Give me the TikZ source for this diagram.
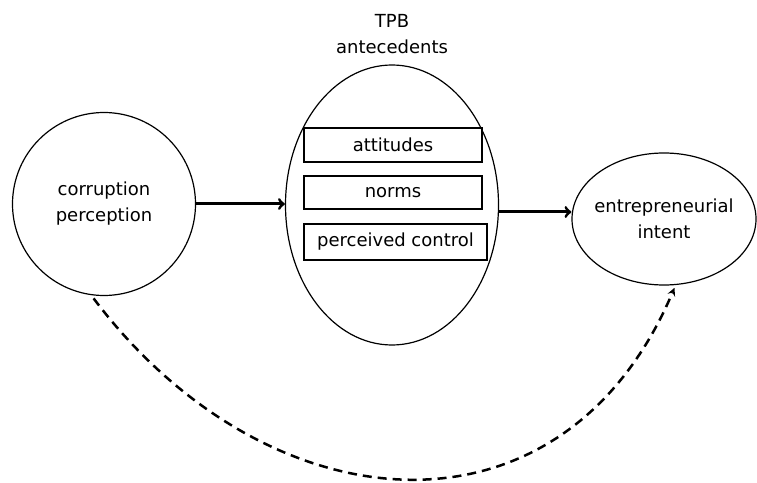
\documentclass[tikz,border=0pt]{standalone}
\usepackage{fontspec}
\setmainfont{DejaVu Sans}
\usetikzlibrary{shapes.geometric}

\begin{document}
\begin{tikzpicture}[x=1pt,y=1pt,font=\fontsize{18}{26}\selectfont]
        \useasboundingbox (0,0) rectangle (757,482);
        \node[draw,circle,line width=1.2pt,minimum size=183pt,align=center] (corruption) at (104,278) {corruption\\perception};
        \node[draw,ellipse,line width=1.2pt,minimum width=213pt,minimum height=280pt] (tpb) at (392,277) {};
        \node[align=center] (title) at (392,448) {TPB\\antecedents};
        \node[draw,line width=1.2pt,minimum width=178pt,minimum height=34pt] (attitudes) at (393,337) {attitudes};
        \node[draw,line width=1.2pt,minimum width=178pt,minimum height=33pt] (norms) at (393,289.5) {norms};
        \node[draw,line width=1.2pt,minimum width=183pt,minimum height=36pt] (control) at (395.5,240) {perceived control};
        \node[draw,ellipse,line width=1.2pt,minimum width=184pt,minimum height=132pt,inner sep=0pt,
              label={[align=center]center:entrepreneurial\\intent}] (intent) at (664,263) {};
        \draw[line width=3pt,->] (corruption.east) -- (corruption.east -| tpb.west);
        \draw[line width=3pt,->] ([yshift=-7pt]tpb.east) -- ([yshift=-7pt]tpb.east -| intent.west);
        \draw[line width=2.5pt,dash pattern=on 9pt off 6pt,-stealth,shorten <=4pt,shorten >=3pt] (corruption.262) .. controls +(-53:292pt) and +(-113:292pt) .. (intent.280);
\end{tikzpicture}
\end{document}
